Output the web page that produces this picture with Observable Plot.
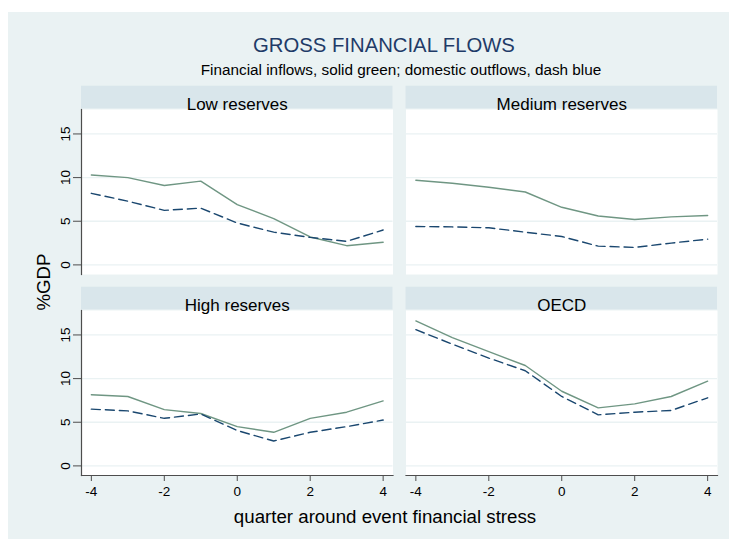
<!DOCTYPE html>
<html>
<head>
<meta charset="utf-8">
<script src="https://cdn.jsdelivr.net/npm/d3@7"></script>
<script src="https://cdn.jsdelivr.net/npm/@observablehq/plot@0.6"></script>
<style>
  html, body { margin: 0; padding: 0; background: #ffffff; }
  #wrap { position: relative; width: 729px; height: 539px; overflow: hidden; font-family: "Liberation Sans", Arial, sans-serif; }
  #bg { position: absolute; left: 8px; top: 12px; right: 0; bottom: 0; background: #EAF2F3; }
  .t { position: absolute; white-space: nowrap; transform: translate(-50%, -50%); line-height: 1; }
  #title { left: 384px; top: 45px; font-size: 20.3px; color: #1F3B68; }
  #subtitle { left: 401px; top: 70px; font-size: 15.3px; color: #000; }
  #xlabel { left: 385px; top: 517px; font-size: 18.7px; color: #000; }
  #ylabel { left: 44px; top: 282px; font-size: 18.7px; color: #000; transform: translate(-50%, -50%) rotate(-90deg); }
  #chart { position: absolute; left: 0; top: 80px; }
  #chart svg text { font-family: "Liberation Sans", Arial, sans-serif; }
</style>
</head>
<body>
<div id="wrap">
  <div id="bg"></div>
  <div id="chart"></div>
  <div class="t" id="title">GROSS FINANCIAL FLOWS</div>
  <div class="t" id="subtitle">Financial inflows, solid green; domestic outflows, dash blue</div>
  <div class="t" id="xlabel">quarter around event financial stress</div>
  <div class="t" id="ylabel">%GDP</div>
</div>
<script>
// ---- data ----
const quarters = [-4, -3, -2, -1, 0, 1, 2, 3, 4];
const panels = ["Low reserves", "Medium reserves", "High reserves", "OECD"];
const panelCol = [0, 1, 0, 1];
const panelRow = [0, 0, 1, 1];
const inflowsLow  = [10.3, 10.0, 9.1, 9.6, 6.9, 5.3, 3.2, 2.2, 2.6];
const outflowsLow = [8.2, 7.3, 6.25, 6.5, 4.8, 3.75, 3.15, 2.7, 4.0];
const inflowsMed  = [9.7, 9.35, 8.9, 8.35, 6.6, 5.6, 5.2, 5.5, 5.65];
const outflowsMed = [4.4, 4.35, 4.25, 3.75, 3.25, 2.15, 2.0, 2.5, 2.95];
const inflowsHigh  = [8.15, 7.95, 6.45, 6.0, 4.5, 3.85, 5.45, 6.15, 7.45];
const outflowsHigh = [6.5, 6.3, 5.45, 5.95, 4.05, 2.85, 3.85, 4.5, 5.25];
const inflowsOECD  = [16.6, 14.7, 13.1, 11.5, 8.55, 6.65, 7.1, 7.95, 9.7];
const outflowsOECD = [15.6, 13.95, 12.35, 10.9, 7.95, 5.85, 6.15, 6.35, 7.8];
const xTicks = [-4, -2, 0, 2, 4];
const yTicks = [0, 5, 10, 15];

// ---- tables ----
const inflowSeries = [inflowsLow, inflowsMed, inflowsHigh, inflowsOECD];
const outflowSeries = [outflowsLow, outflowsMed, outflowsHigh, outflowsOECD];
const panelTable = panels.map((name, i) => ({name, col: panelCol[i], row: panelRow[i]}));
const toRows = (series) => series.flatMap((vals, i) =>
  vals.map((v, j) => ({panel: panels[i], col: panelCol[i], row: panelRow[i], q: quarters[j], v})));
const inflowRows = toRows(inflowSeries);
const outflowRows = toRows(outflowSeries);

const axisColor = "#4d4d4d";

const chart = Plot.plot({
  width: 729,
  height: 459,
  marginTop: 29,
  marginBottom: 64,
  marginLeft: 81,
  marginRight: 12,
  style: {background: "transparent", fontFamily: "Liberation Sans, Arial, sans-serif", fontSize: "13.5px", color: "#000"},
  fx: {domain: [0, 1], paddingInner: 0.04006, paddingOuter: 0, round: false, axis: null},
  fy: {domain: [0, 1], paddingInner: 0.1791, paddingOuter: 0, round: false, axis: null},
  x: {domain: [-4.27, 4.27], axis: null},
  y: {domain: [-1.1, 17.8], axis: null},
  marks: [
    Plot.frame({fill: "white", stroke: null}),
    Plot.rect(panelTable, {fx: "col", fy: "row", fill: "#D9E6EB", insetBottom: 142.3, dy: -23.3}),
    Plot.text(panelTable, {fx: "col", fy: "row", text: "name", frameAnchor: "top", dy: -11.5, fontSize: 17, fill: "#000"}),
    Plot.gridY(yTicks, {stroke: "#EAF2F3", strokeOpacity: 1, strokeWidth: 1.3}),
    Plot.line(inflowRows, {fx: "col", fy: "row", x: "q", y: "v", stroke: "#6F9683", strokeWidth: 1.4}),
    Plot.line(outflowRows, {fx: "col", fy: "row", x: "q", y: "v", stroke: "#1A476F", strokeWidth: 1.4, strokeDasharray: "9,5"}),
    Plot.axisY({ticks: yTicks, anchor: "left", tickRotate: -90, tickSize: 8, tickPadding: 4, fontSize: 13.5, label: null, stroke: axisColor, fill: "#000"}),
    Plot.axisX({ticks: xTicks, anchor: "bottom", tickSize: 6, tickPadding: 5, fontSize: 13.5, label: null, stroke: axisColor, fill: "#000", tickFormat: d => String(d).replace("\u2212", "-")}),
    Plot.frame({anchor: "left", facetAnchor: "left", stroke: axisColor, strokeWidth: 1.2}),
    Plot.frame({anchor: "bottom", facetAnchor: "bottom", stroke: axisColor, strokeWidth: 1.2})
  ]
});
document.getElementById("chart").appendChild(chart);
</script>
</body>
</html>
